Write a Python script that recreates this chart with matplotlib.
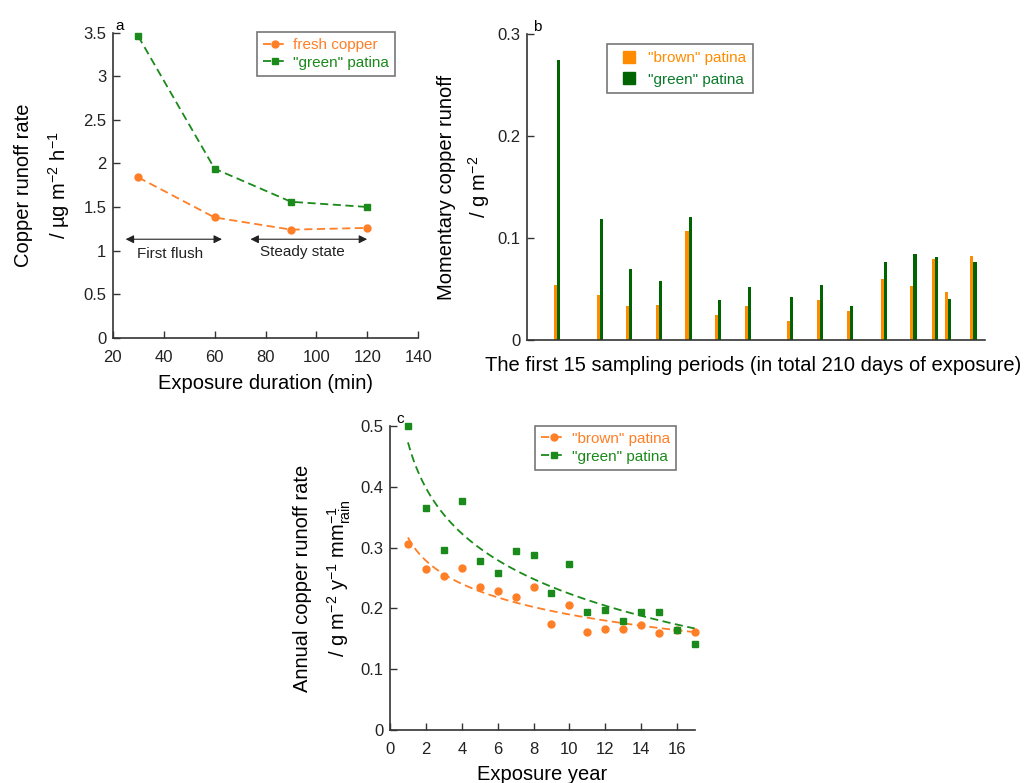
import numpy as np
import matplotlib
matplotlib.use('Agg')
import matplotlib.pyplot as plt
from matplotlib.lines import Line2D

plt.rcParams['font.family'] = ['Liberation Sans', 'DejaVu Sans']
plt.rcParams['mathtext.default'] = 'regular'

# colours
orange = '#FF7F27'
green = '#1A8A1A'
bar_orange = '#FF8C00'
bar_green = '#006400'
axis_col = '#333333'

# panel a: runoff rate vs exposure duration
duration = [30, 60, 90, 120]
fresh_copper = [1.84, 1.38, 1.24, 1.26]
green_patina_a = [3.46, 1.94, 1.56, 1.50]

# panel b: momentary runoff for 15 sampling periods
sampling_day = [15.4, 35.7, 49.7, 64.1, 78.4, 92.7, 106.9, 127.2,
                141.6, 155.8, 172.2, 186.4, 196.6, 202.8, 215.2]
brown_b = [0.054, 0.044, 0.034, 0.035, 0.107, 0.025, 0.034, 0.019,
           0.039, 0.029, 0.060, 0.053, 0.080, 0.047, 0.083]
green_b = [0.275, 0.119, 0.070, 0.058, 0.121, 0.039, 0.052, 0.042,
           0.054, 0.034, 0.077, 0.085, 0.082, 0.040, 0.077]

# panel c: annual runoff rate vs exposure year
year = np.arange(1, 18)
brown_c = [0.306, 0.264, 0.253, 0.266, 0.236, 0.229, 0.218, 0.235, 0.175,
           0.205, 0.162, 0.167, 0.166, 0.173, 0.160, 0.165, 0.162]
green_c = [0.500, 0.365, 0.296, 0.377, 0.278, 0.258, 0.294, 0.287, 0.226,
           0.273, 0.194, 0.198, 0.180, 0.195, 0.195, 0.164, 0.141]

W, H = 1026, 783
fig = plt.figure(figsize=(W / 100, H / 100), dpi=100)

LABEL_FS = 14.5
TICK_FS = 12
DASH = (4.5, 2.5)


def box(l, t, r, b):
    return [l / W, 1 - b / H, (r - l) / W, (b - t) / H]


def style(ax):
    for s in ['top', 'right']:
        ax.spines[s].set_visible(False)
    for s in ['left', 'bottom']:
        ax.spines[s].set_color(axis_col)
        ax.spines[s].set_linewidth(1.2)
    ax.tick_params(direction='in', length=5, width=1, colors=axis_col,
                   labelsize=TICK_FS, labelcolor='#222222')
    ax.tick_params(axis='y', pad=4.5)
    ax.tick_params(axis='x', pad=8.5)


def legend(ax, **kw):
    leg = ax.legend(frameon=True, fancybox=False, fontsize=11, handlelength=1.6,
                    handletextpad=0.4, borderpad=0.4, labelspacing=0.25,
                    borderaxespad=0, **kw)
    leg.get_frame().set_edgecolor('#555555')
    leg.get_frame().set_linewidth(1.2)
    for txt, h in zip(leg.get_texts(), leg.legend_handles):
        txt.set_color(h.get_color())
    return leg


# ---- panel a
ax1 = fig.add_axes(box(112.7, 32.7, 418.3, 337.7))
style(ax1)
ax1.plot(duration, fresh_copper, '--o', color=orange, ms=5, lw=1.3, dashes=DASH,
         label='fresh copper', clip_on=False)
ax1.plot(duration, green_patina_a, '--s', color=green, ms=5, lw=1.3, dashes=DASH,
         label='"green" patina', clip_on=False)
ax1.set_xlim(20, 140)
ax1.set_ylim(0, 3.5)
ax1.set_xticks(range(20, 141, 20))
ax1.set_yticks([0, 0.5, 1, 1.5, 2, 2.5, 3, 3.5])
ax1.set_yticklabels(['0', '0.5', '1', '1.5', '2', '2.5', '3', '3.5'])
ax1.set_xlabel('Exposure duration (min)', fontsize=LABEL_FS, labelpad=7)
ax1.set_ylabel('Copper runoff rate\n/ µg m$^{-2}$ h$^{-1}$', fontsize=LABEL_FS,
               va='center', linespacing=1.7)
ax1.yaxis.set_label_coords(-0.228, 0.5)
legend(ax1, loc='upper right', bbox_to_anchor=(0.925, 1.003))
arrow = dict(arrowstyle='<|-|>', color='#222222', lw=0.8, mutation_scale=12)
ax1.annotate('', xy=(24, 1.13), xytext=(64, 1.13), arrowprops=arrow)
ax1.annotate('', xy=(73, 1.13), xytext=(121, 1.13), arrowprops=arrow)
ax1.text(42.5, 0.96, 'First flush', ha='center', va='center', fontsize=11, color='#222222')
ax1.text(94.5, 0.98, 'Steady state', ha='center', va='center', fontsize=11, color='#222222')
ax1.text(0.01, 1.0, 'a', transform=ax1.transAxes, fontsize=11, ha='left', va='bottom')

# ---- panel b
ax2 = fig.add_axes(box(526.7, 34, 985, 340.3))
style(ax2)
ax2.bar(np.array(sampling_day) - 1.45, brown_b, width=1.45, color=bar_orange)
ax2.bar(sampling_day, green_b, width=1.45, color=bar_green)
ax2.set_xlim(0, 220)
ax2.set_ylim(0, 0.3)
ax2.set_xticks([])
ax2.set_yticks([0, 0.1, 0.2, 0.3])
ax2.set_yticklabels(['0', '0.1', '0.2', '0.3'])
ax2.set_xlabel('The first 15 sampling periods (in total 210 days of exposure)',
               fontsize=LABEL_FS)
ax2.xaxis.set_label_coords(0.493, -0.05)
ax2.xaxis.label.set_va('top')
ax2.set_ylabel('Momentary copper runoff\n/ g m$^{-2}$', fontsize=LABEL_FS,
               va='center', linespacing=1.5)
ax2.yaxis.set_label_coords(-0.135, 0.5)
handles_b = [Line2D([], [], ls='none', marker='s', ms=8.5, color=bar_orange),
             Line2D([], [], ls='none', marker='s', ms=8.5, color=bar_green)]
leg = ax2.legend(handles_b, ['"brown" patina', '"green" patina'],
                 frameon=True, fancybox=False, fontsize=11, handlelength=2.0,
                 handletextpad=0.25, borderpad=0.45, labelspacing=0.5,
                 borderaxespad=0, loc='upper left', bbox_to_anchor=(0.175, 0.967))
leg.get_frame().set_edgecolor('#555555')
leg.get_frame().set_linewidth(1.2)
leg.get_texts()[0].set_color(bar_orange)
leg.get_texts()[1].set_color('#0A7A2A')
ax2.text(0.013, 1.0, 'b', transform=ax2.transAxes, fontsize=11, ha='left', va='bottom')

# ---- panel c
ax3 = fig.add_axes(box(390, 425.7, 695, 730.3))
style(ax3)
xs = np.linspace(1, 17, 100)
pb = np.polyfit(np.log(year), brown_c, 1)
pg = np.polyfit(np.log(year), green_c, 1)
ax3.plot(xs, np.polyval(pb, np.log(xs)), '--', color=orange, lw=1.3, dashes=DASH)
ax3.plot(xs, np.polyval(pg, np.log(xs)), '--', color=green, lw=1.3, dashes=DASH)
ax3.plot(year, brown_c, 'o', color=orange, ms=5, clip_on=False)
ax3.plot(year, green_c, 's', color=green, ms=5, clip_on=False)
ax3.plot([], [], '--o', color=orange, ms=5, lw=1.3, dashes=DASH, label='"brown" patina')
ax3.plot([], [], '--s', color=green, ms=5, lw=1.3, dashes=DASH, label='"green" patina')
ax3.set_xlim(0, 17)
ax3.set_ylim(0, 0.5)
ax3.set_xticks(range(0, 17, 2))
ax3.set_yticks([0, 0.1, 0.2, 0.3, 0.4, 0.5])
ax3.set_yticklabels(['0', '0.1', '0.2', '0.3', '0.4', '0.5'])
ax3.set_xlabel('Exposure year', fontsize=LABEL_FS, labelpad=6)
ax3.set_ylabel('Annual copper runoff rate\n/ g m$^{-2}$ y$^{-1}$ mm$_{rain}^{-1}$',
               fontsize=LABEL_FS, va='center', linespacing=1.7)
ax3.yaxis.set_label_coords(-0.22, 0.5)
legend(ax3, loc='upper right', bbox_to_anchor=(0.938, 1.0))
ax3.text(0.02, 1.0, 'c', transform=ax3.transAxes, fontsize=11, ha='left', va='bottom')

fig.savefig('out.png', dpi=100)
